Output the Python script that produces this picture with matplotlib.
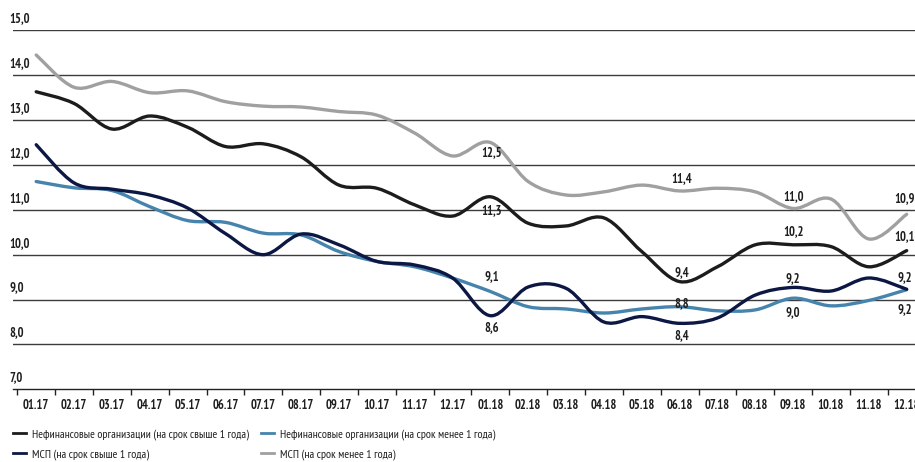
import matplotlib
matplotlib.use("Agg")
import matplotlib.pyplot as plt
from matplotlib.path import Path
from matplotlib.patches import PathPatch
from matplotlib.lines import Line2D

months = ['01.17', '02.17', '03.17', '04.17', '05.17', '06.17', '07.17', '08.17',
          '09.17', '10.17', '11.17', '12.17', '01.18', '02.18', '03.18', '04.18',
          '05.18', '06.18', '07.18', '08.18', '09.18', '10.18', '11.18', '12.18']

nonfin_long = [13.63, 13.37, 12.80, 13.09, 12.84, 12.41, 12.47, 12.18, 11.55, 11.48, 11.11, 10.86,
               11.29, 10.70, 10.64, 10.82, 10.07, 9.40, 9.73, 10.22, 10.22, 10.18, 9.73, 10.09]
nonfin_short = [11.63, 11.49, 11.43, 11.07, 10.76, 10.72, 10.48, 10.44, 10.07, 9.85, 9.73, 9.48,
                9.18, 8.84, 8.79, 8.70, 8.79, 8.84, 8.75, 8.77, 9.03, 8.86, 8.98, 9.22]
sme_long = [12.45, 11.60, 11.46, 11.33, 11.04, 10.47, 10.00, 10.46, 10.22, 9.85, 9.77, 9.48,
            8.64, 9.28, 9.25, 8.50, 8.62, 8.47, 8.59, 9.10, 9.27, 9.19, 9.48, 9.23]
sme_short = [14.45, 13.73, 13.86, 13.61, 13.65, 13.41, 13.31, 13.29, 13.19, 13.11, 12.71, 12.20,
             12.50, 11.63, 11.33, 11.40, 11.55, 11.42, 11.48, 11.40, 11.03, 11.24, 10.35, 10.90]

series_names = ['Нефинансовые организации (на срок свыше 1 года)',
                'Нефинансовые организации (на срок менее 1 года)',
                'МСП (на срок свыше 1 года)',
                'МСП (на срок менее 1 года)']

y_ticks = [7, 8, 9, 10, 11, 12, 13, 14, 15]
y_tick_labels = ['7,0', '8,0', '9,0', '10,0', '11,0', '12,0', '13,0', '14,0', '15,0']

# data labels: (series index, month index, text)
point_labels = [
    (3, 12, '12,5'), (0, 12, '11,3'), (1, 12, '9,1'), (2, 12, '8,6'),
    (3, 17, '11,4'), (0, 17, '9,4'), (1, 17, '8,8'), (2, 17, '8,4'),
    (3, 20, '11,0'), (0, 20, '10,2'), (2, 20, '9,2'), (1, 20, '9,0'),
    (3, 23, '10,9'), (0, 23, '10,1'), (2, 23, '9,2'), (1, 23, '9,2'),
]
# pixel offsets for each label (style only)
label_offsets = [
    (1, -10), (1, -14), (1, 15), (1, -12),
    (2, 12), (2, 9), (2, 3), (2, -12),
    (0, 12), (0, 13), (0, 9), (0, -14),
    (-2, 16), (-2, 14), (-2, 12), (-2, -20),
]

colors = ['#1c1c1c', '#4683ad', '#0c1744', '#a0a0a0']
FONT = ['PT Sans Narrow', 'Roboto Condensed', 'IBM Plex Sans Condensed', 'DejaVu Sans']
plt.rcParams['font.family'] = FONT
TXT = '#1e1e1e'

W, H = 915, 462
fig = plt.figure(figsize=(W / 100, H / 100), dpi=100)
left_px, right_px, top_px, bottom_px = 12.7, 915, 30.3, 389.3
ax = fig.add_axes([left_px / W, 1 - bottom_px / H, (right_px - left_px) / W, (bottom_px - top_px) / H])

for s in ['top', 'right', 'left']:
    ax.spines[s].set_visible(False)
ax.spines['bottom'].set_color('#222222')
ax.spines['bottom'].set_linewidth(1.0)

# gridlines
for v in y_ticks[1:]:
    ax.axhline(v, color='#3c3c3c', lw=1.0, zorder=1)

# x ticks
xs = list(range(len(months)))
ax.set_xticks(xs)
ax.set_xticklabels(months, fontsize=9, fontweight='bold', color=TXT)
ax.tick_params(axis='x', which='major', length=0, pad=7)
ax.set_xticks([i - 0.5 for i in range(len(months) + 1)], minor=True)
ax.tick_params(axis='x', which='minor', length=4, width=1.0, color='#222222', direction='out')
ax.set_yticks([])

# limits set after ticks (set_ticks can expand the view)
ax.set_xlim(-0.621, 23.22)
ax.set_ylim(7, 15)

# y labels above gridlines
for v, lab in zip(y_ticks, y_tick_labels):
    ax.annotate(lab, xy=(0, v), xycoords=('axes fraction', 'data'), xytext=(-3, 5),
                textcoords='offset pixels', ha='left', va='bottom', fontsize=9,
                fontweight='bold', color=TXT, annotation_clip=False)


def smooth_path(xv, yv):
    n = len(xv)
    verts = [(xv[0], yv[0])]
    codes = [Path.MOVETO]
    for i in range(n - 1):
        xm1, ym1 = (xv[i - 1], yv[i - 1]) if i > 0 else (xv[i], yv[i])
        xp2, yp2 = (xv[i + 2], yv[i + 2]) if i + 2 < n else (xv[i + 1], yv[i + 1])
        c1 = (xv[i] + (xv[i + 1] - xm1) / 6, yv[i] + (yv[i + 1] - ym1) / 6)
        c2 = (xv[i + 1] - (xp2 - xv[i]) / 6, yv[i + 1] - (yp2 - yv[i]) / 6)
        verts += [c1, c2, (xv[i + 1], yv[i + 1])]
        codes += [Path.CURVE4] * 3
    return Path(verts, codes)


all_series = [nonfin_long, nonfin_short, sme_long, sme_short]
for k, ys in enumerate(all_series):
    p = PathPatch(smooth_path(xs, ys), fill=False, edgecolor=colors[k], lw=2.4,
                  capstyle='round', joinstyle='round', zorder=3 + k, clip_on=False)
    ax.add_patch(p)

for (si, mi, txt), (dx, dy) in zip(point_labels, label_offsets):
    ax.annotate(txt, xy=(mi, all_series[si][mi]), xytext=(dx, dy), textcoords='offset pixels',
                ha='center', va='center', fontsize=9, fontweight='bold', color=TXT,
                zorder=10, annotation_clip=False)

handles = [Line2D([], [], color=c, lw=2.0) for c in colors]
common = dict(loc='center left', frameon=False, fontsize=8.5, handlelength=1.1,
              handletextpad=0.5, labelspacing=0.8, borderaxespad=0, borderpad=0,
              labelcolor=TXT)
leg1 = fig.legend(handles[0::2], [series_names[0], series_names[2]],
                  bbox_to_anchor=(13 / W, 1 - 444.5 / H), **common)
leg2 = fig.legend(handles[1::2], [series_names[1], series_names[3]],
                  bbox_to_anchor=(261 / W, 1 - 444.5 / H), **common)

fig.savefig('out.png', dpi=100)
